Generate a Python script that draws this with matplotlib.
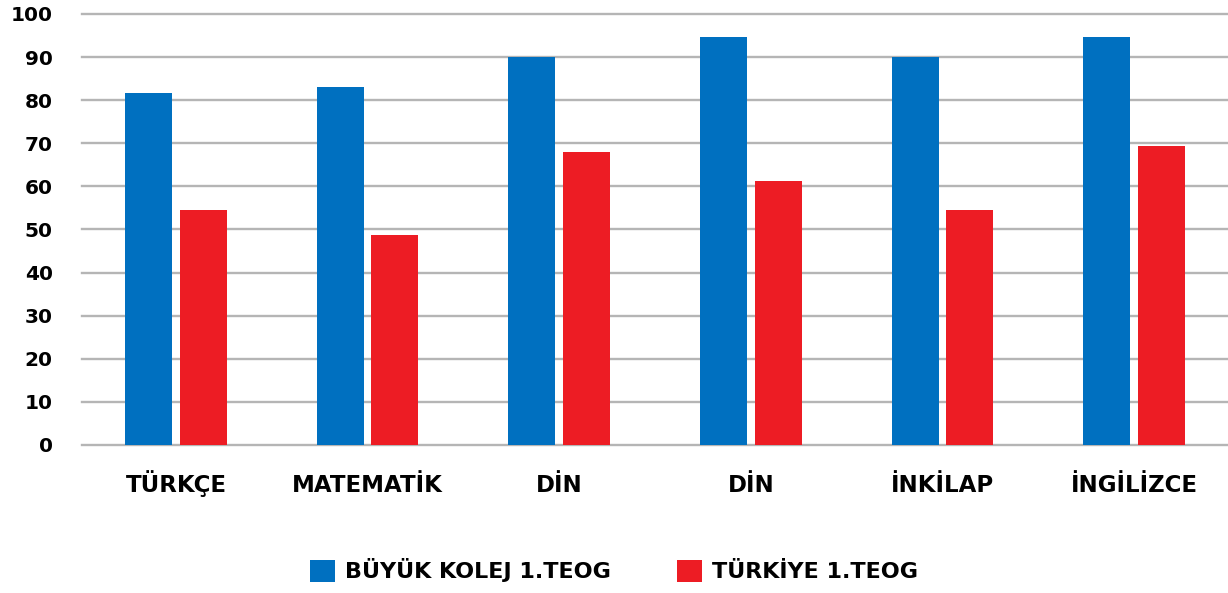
import numpy as np
import matplotlib
matplotlib.use("Agg")
import matplotlib.pyplot as plt

# veriler
dersler = ["TÜRKÇE", "MATEMATİK", "DİN", "DİN", "İNKİLAP", "İNGİLİZCE"]
buyuk_kolej = [81.7, 83.1, 90.0, 94.7, 90.0, 94.7]
turkiye = [54.6, 48.8, 67.9, 61.2, 54.6, 69.3]
y_ticks = [0, 10, 20, 30, 40, 50, 60, 70, 80, 90, 100]

plt.rcParams['font.family'] = ['DejaVu Sans']

mavi = '#0070c0'
kirmizi = '#ed1c24'

fig = plt.figure(figsize=(12.28, 5.93), dpi=100)
ax = fig.add_axes([0.0668, 0.2496, 0.9332, 0.7268])

x = np.arange(len(dersler))
w = 0.245
off = 0.143
ax.bar(x - off, buyuk_kolej, w, color=mavi, label='BÜYÜK KOLEJ 1.TEOG', zorder=3)
ax.bar(x + off, turkiye, w, color=kirmizi, label='TÜRKİYE 1.TEOG', zorder=3)

ax.set_ylim(0, 100)
ax.set_xlim(-0.49, len(dersler) - 0.51)
ax.set_yticks(y_ticks)
ax.set_yticklabels([str(t) for t in y_ticks], fontsize=14.5, fontweight='bold')
ax.set_xticks(x)
ax.set_xticklabels(dersler, fontsize=16.5, fontweight='bold', va='baseline')

ax.yaxis.grid(True, color='#b5b5b5', linewidth=1.7, zorder=0)
ax.set_axisbelow(True)
for s in ax.spines.values():
    s.set_visible(False)
ax.tick_params(axis='y', length=0, pad=21)
ax.tick_params(axis='x', length=0, pad=34)
for gl in ax.get_ygridlines():
    gl.set_clip_on(False)

leg = fig.legend(loc='center', bbox_to_anchor=(0.5, 0.038), ncol=2, frameon=False,
                 prop={'size': 16, 'weight': 'bold'}, handlelength=1.1, handleheight=1.1,
                 handletextpad=0.45, columnspacing=3.0)

fig.savefig('out.png', dpi=100)
